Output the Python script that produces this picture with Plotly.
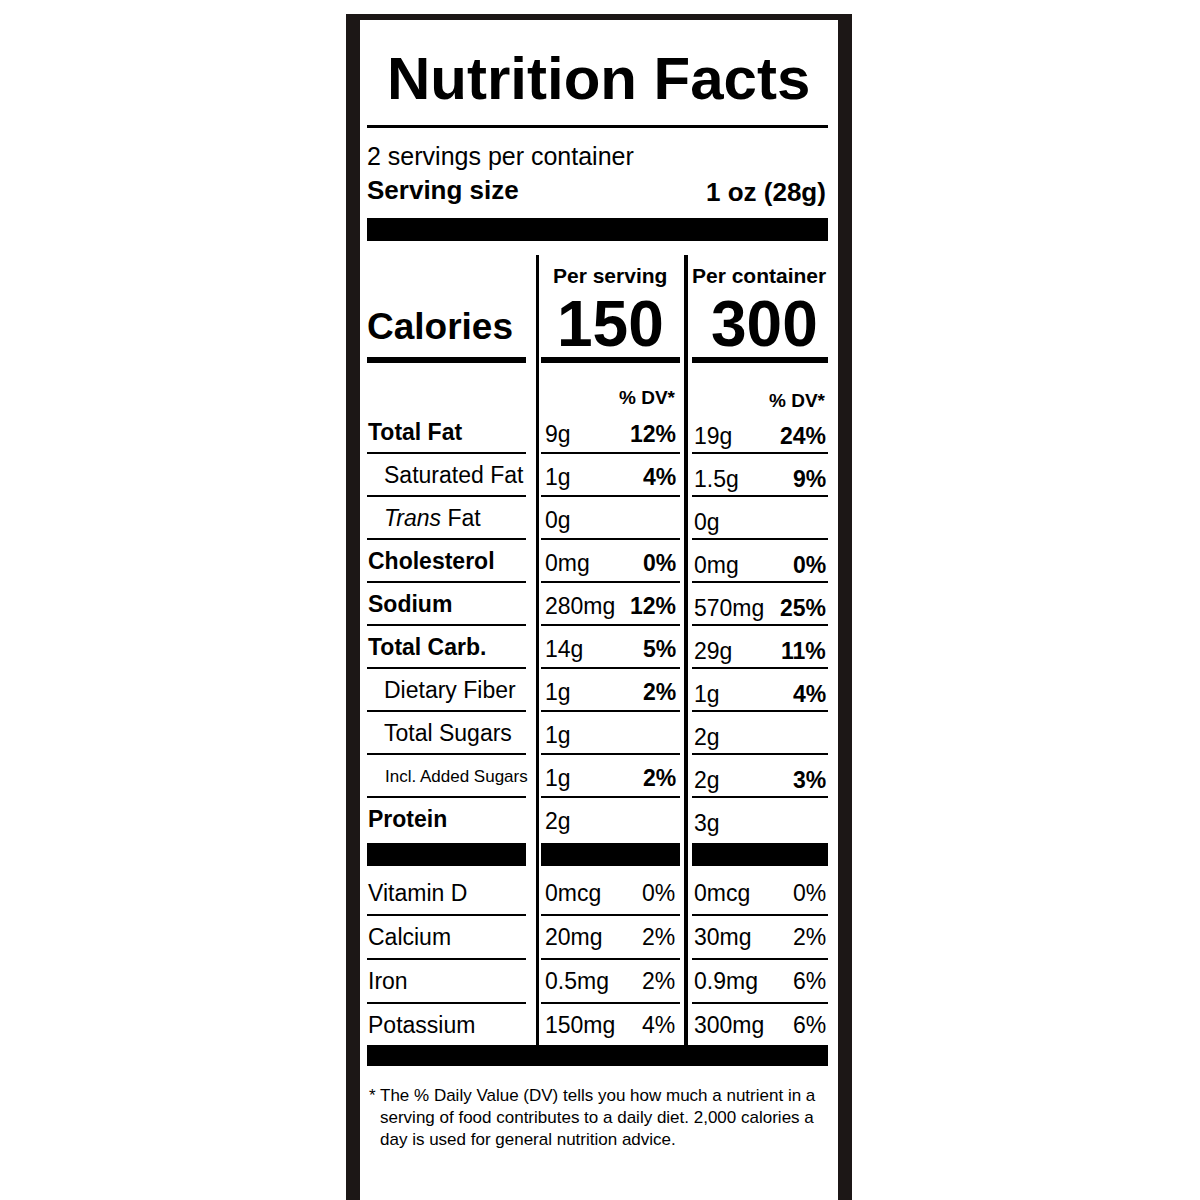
import plotly.graph_objects as go

nutrients = ["Total Fat", "Saturated Fat", "<i>Trans</i> Fat", "Cholesterol", "Sodium", "Total Carb.",
             "Dietary Fiber", "Total Sugars", "Incl. Added Sugars", "Protein"]
bold_rows = [True, False, False, True, True, True, False, False, False, True]
indent = [0, 1, 1, 0, 0, 0, 1, 1, 2, 0]
serv_amt = ["9g", "1g", "0g", "0mg", "280mg", "14g", "1g", "1g", "1g", "2g"]
serv_dv = ["12%", "4%", "", "0%", "12%", "5%", "2%", "", "2%", ""]
cont_amt = ["19g", "1.5g", "0g", "0mg", "570mg", "29g", "1g", "2g", "2g", "3g"]
cont_dv = ["24%", "9%", "", "0%", "25%", "11%", "4%", "", "3%", ""]
vitamins = ["Vitamin D", "Calcium", "Iron", "Potassium"]
vit_serv_amt = ["0mcg", "20mg", "0.5mg", "150mg"]
vit_serv_dv = ["0%", "2%", "2%", "4%"]
vit_cont_amt = ["0mcg", "30mg", "0.9mg", "300mg"]
vit_cont_dv = ["0%", "2%", "6%", "6%"]
cal_serv, cal_cont = "150", "300"

F = "Liberation Sans, Arial, sans-serif"
fig = go.Figure()
shapes, ann = [], []
def rect(x0, y0, x1, y1, c="black"):
    shapes.append(dict(type="rect", x0=x0, x1=x1, y0=y0, y1=y1, fillcolor=c, line_width=0, layer="below"))
def text(x, y, t, size, bold=False, anchor="left"):
    ann.append(dict(x=x, y=y, text=f"<b>{t}</b>" if bold else t, showarrow=False, xanchor=anchor, yanchor="middle",
                    font=dict(family=F, size=size, color="black")))

rect(346, 14, 852, 1210, "#1c1716")
rect(360, 20, 838, 1210, "white")
text(598, 78, "Nutrition Facts", 60, True, "center")
rect(367, 125, 828, 128)
text(365, 156, "2 servings per container", 25)
text(365, 190, "Serving size", 26, True)
text(828, 192, "1 oz (28g)", 26, True, "right")
rect(367, 218, 828, 241)
rect(536, 255, 539, 1045); rect(684, 255, 688, 1045)
text(610, 275, "Per serving", 21, True, "center")
text(759, 275, "Per container", 21, True, "center")
text(365, 326, "Calories", 37, True)
text(610, 324, cal_serv, 64, True, "center")
text(764, 324, cal_cont, 64, True, "center")
rect(367, 357, 526, 363); rect(541, 357, 680, 363); rect(692, 357, 828, 363)
text(678, 397, "% DV*", 19, True, "right")
text(828, 400, "% DV*", 19, True, "right")
segs = [(367, 526), (541, 680), (692, 828)]
for i, n in enumerate(nutrients):
    y = 432 + i * 43
    size = 17 if indent[i] == 2 else 23
    text(366 + [0, 16, 17][indent[i]], y, n, size, bold_rows[i])
    text(543, y + 2, serv_amt[i], 23); text(678, y + 2, serv_dv[i], 23, True, "right")
    text(692, y + 4, cont_amt[i], 23); text(828, y + 4, cont_dv[i], 23, True, "right")
    if i < len(nutrients) - 1:
        for a, b in segs:
            rect(a, y + 20, b, y + 22)
for a, b in segs:
    rect(a, 843, b, 866)
for i, v in enumerate(vitamins):
    y = 893 + i * 44
    text(366, y, v, 23)
    text(543, y, vit_serv_amt[i], 23); text(677, y, vit_serv_dv[i], 23, False, "right")
    text(692, y, vit_cont_amt[i], 23); text(828, y, vit_cont_dv[i], 23, False, "right")
    if i < 3:
        for a, b in segs:
            rect(a, y + 21, b, y + 23)
rect(367, 1045, 828, 1066)
foot = ["* The % Daily Value (DV) tells you how much a nutrient in a",
        "serving of food contributes to a daily diet. 2,000 calories a",
        "day is used for general nutrition advice."]
for i, t in enumerate(foot):
    text(367 if i == 0 else 378, 1095 + i * 22, t, 17)

fig.update_layout(width=1200, height=1200, margin=dict(l=0, r=0, t=0, b=0), shapes=shapes, annotations=ann,
                  plot_bgcolor="white", paper_bgcolor="white", showlegend=False,
                  xaxis=dict(range=[8, 1208], visible=False, fixedrange=True),
                  yaxis=dict(range=[1208, 8], visible=False, fixedrange=True))
fig.write_html("out.html")
